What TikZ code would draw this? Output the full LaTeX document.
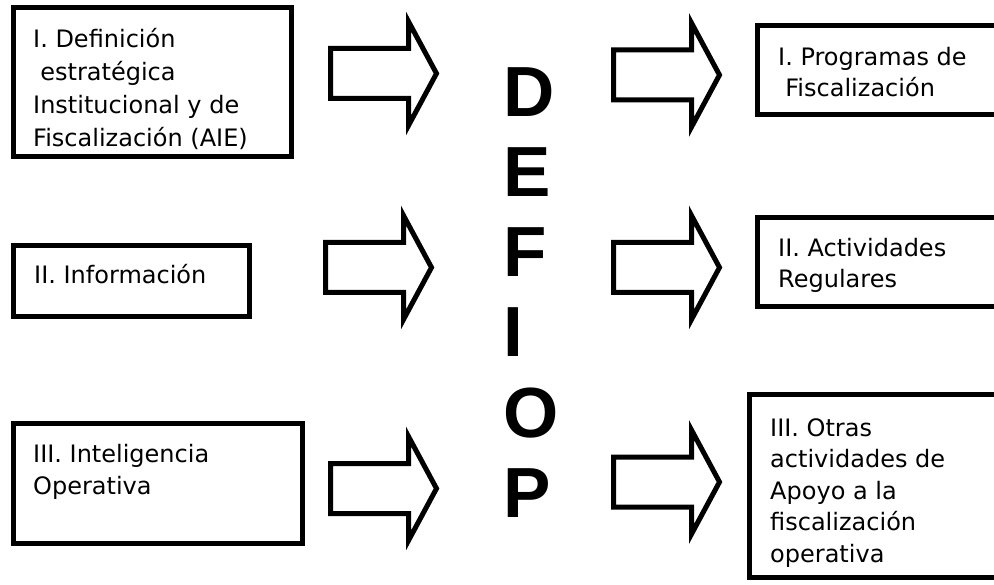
\documentclass[tikz,border=0pt]{standalone}
\usepackage{fontspec}
\setmainfont{DejaVu Sans}
\newfontfamily\letrafont{Liberation Sans}

\tikzset{
  caja/.style={draw, line width=5pt, rectangle, outer sep=0pt, inner sep=0pt, anchor=north west},
  texto/.style={align=left, inner sep=0pt, anchor=base west, font=\fontsize{24}{31.5}\selectfont},
  letra/.style={inner sep=0pt, anchor=base west, font=\letrafont\bfseries\fontsize{71}{71}\selectfont},
  bloque/.style={draw, line width=5pt},
  flecha/.pic={\draw[bloque] (0,-25) -- (78,-25) -- (78,-52) -- (106,0) -- (78,52) -- (78,25) -- (0,25) -- cycle;}
}

\begin{document}
\begin{tikzpicture}[x=1pt,y=-1pt]
    \useasboundingbox (0,0) rectangle (994,585);
    \clip (0,0) rectangle (994,585);

    % Define the boxes on the left
    \node[caja, minimum width=278pt, minimum height=149pt] (estrategia) at (13.5,7.5) {};
    \node[caja, minimum width=236pt, minimum height=71pt] (informacion) at (13.5,245.5) {};
    \node[caja, minimum width=289pt, minimum height=120pt] (inteligencia) at (13.5,423.5) {};

    % Define the boxes on the right
    \node[caja, minimum width=260pt, minimum height=89pt] (programas) at (757.5,25.5) {};
    \node[caja, minimum width=260pt, minimum height=89pt] (regulares) at (757.5,217.5) {};
    \node[caja, minimum width=270pt, minimum height=183pt] (apoyo) at (749.5,394.5) {};

    % Texts inside the boxes (placed by the baseline of their last line)
    \node[texto, font=\fontsize{24}{33}\selectfont] (t1) at ([shift={(19.5,139.5)}]estrategia.north west) {I. Definición\\\hspace{0.3em}estratégica\\Institucional y de\\Fiscalización (AIE)};
    \node[texto] (t2) at ([shift={(20.5,38.5)}]informacion.north west) {II. Información};
    \node[texto] (t3) at ([shift={(19.5,70.5)}]inteligencia.north west) {III. Inteligencia\\Operativa};
    \node[texto] (t4) at ([shift={(20.5,71.5)}]programas.north west) {I. Programas de\\\hspace{0.3em}Fiscalización};
    \node[texto] (t5) at ([shift={(20.5,70.5)}]regulares.north west) {II. Actividades\\Regulares};
    \node[texto] (t6) at ([shift={(20.5,167.5)}]apoyo.north west) {III. Otras\\actividades de\\Apoyo a la\\fiscalización\\operativa};

    % Block arrows in and out
    \pic (a1) at (330.5,73.5) {flecha};
    \pic (a2) at (325.5,267.5) {flecha};
    \pic (a3) at (330.5,488.5) {flecha};
    \pic (b1) at (613.5,75) {flecha};
    \pic (b2) at (613.5,267.5) {flecha};
    \pic (b3) at (613.5,482) {flecha};

    % DEFIOP down the middle
    \foreach \l [count=\i from 0] in {D,E,F,I,O,P}
        \node[letra] (l\i) at (503,{117+80*\i}) {\l};
\end{tikzpicture}
\end{document}
